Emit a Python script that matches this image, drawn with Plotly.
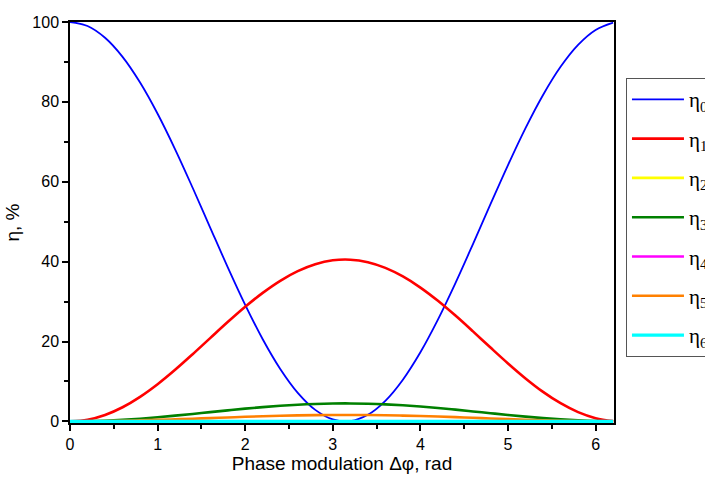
import plotly.graph_objects as go

phase = [0.0, 0.2, 0.4, 0.6, 0.8, 1.0, 1.2, 1.4, 1.6, 1.8, 2.0, 2.2, 2.4, 2.6, 2.8, 3.0,
         3.2, 3.4, 3.6, 3.8, 4.0, 4.2, 4.4, 4.6, 4.8, 5.0, 5.2, 5.4, 5.6, 5.8, 6.0, 6.2]

eta0 = [100.0, 99.0, 96.05, 91.27, 84.84, 77.02, 68.12, 58.50, 48.54, 38.64, 29.19, 20.57,
        13.13, 7.16, 2.89, 0.50, 0.09, 1.66, 5.16, 10.45, 17.32, 25.49, 34.63, 44.39, 54.38,
        64.18, 73.43, 81.73, 88.78, 94.28, 98.01, 99.83]
eta1 = [0.0, 0.40, 1.60, 3.54, 6.15, 9.31, 12.92, 16.82, 20.86, 24.87, 28.70, 32.19, 35.21,
        37.63, 39.36, 40.33, 40.49, 39.86, 38.44, 36.29, 33.51, 30.20, 26.49, 22.54, 18.49,
        14.52, 10.77, 7.40, 4.55, 2.32, 0.81, 0.07]
eta2 = [0.0] * 32
eta3 = [0.0, 0.05, 0.18, 0.39, 0.68, 1.03, 1.44, 1.87, 2.32, 2.76, 3.19, 3.58, 3.91, 4.18,
        4.37, 4.48, 4.50, 4.43, 4.27, 4.03, 3.72, 3.36, 2.94, 2.50, 2.05, 1.61, 1.20, 0.82,
        0.51, 0.26, 0.09, 0.01]
eta4 = [0.0] * 32
eta5 = [0.0, 0.02, 0.06, 0.14, 0.25, 0.37, 0.52, 0.67, 0.83, 0.99, 1.15, 1.29, 1.41, 1.50,
        1.57, 1.61, 1.62, 1.59, 1.54, 1.45, 1.34, 1.21, 1.06, 0.90, 0.74, 0.58, 0.43, 0.30,
        0.18, 0.09, 0.03, 0.00]
eta6 = [0.0] * 32

series = [
    ("η<sub>0</sub>", eta0, "#0000ff", 1.8),
    ("η<sub>1</sub>", eta1, "#ff0000", 2.6),
    ("η<sub>2</sub>", eta2, "#ffff00", 2.6),
    ("η<sub>3</sub>", eta3, "#008000", 2.6),
    ("η<sub>4</sub>", eta4, "#ff00ff", 2.6),
    ("η<sub>5</sub>", eta5, "#ff8000", 2.6),
    ("η<sub>6</sub>", eta6, "#00ffff", 3.2),
]

fig = go.Figure()
for i, (name, vals, color, w) in enumerate(series):
    fig.add_trace(go.Scatter(
        x=phase, y=vals, mode="lines", name=name,
        line=dict(color=color, width=w, shape="spline", smoothing=1.0),
        legendgroup=f"g{i}",
    ))

fig.update_layout(
    width=705, height=477,
    margin=dict(l=70, r=91, t=22, b=54, autoexpand=False),
    paper_bgcolor="white", plot_bgcolor="white",
    font=dict(family="Arial, Liberation Sans, sans-serif", size=16, color="black"),
    showlegend=True,
    legend=dict(
        x=1.022, y=0.86, xanchor="left", yanchor="top",
        font=dict(family="Liberation Serif, Times New Roman, serif", size=21, color="black"),
        bgcolor="white", bordercolor="#555555", borderwidth=1,
        tracegroupgap=9, itemwidth=52,
    ),
    xaxis=dict(
        range=[0, 6.21], tickmode="array", tickvals=[0, 1, 2, 3, 4, 5, 6],
        ticks="outside", ticklen=6, tickwidth=1.5, tickcolor="black",
        minor=dict(ticks="outside", ticklen=4, tickwidth=1.5, tickcolor="black", dtick=0.5, tick0=0),
        showline=True, linecolor="black", linewidth=1.5, mirror=True,
        showgrid=False, zeroline=False,
        title=dict(text="Phase modulation Δφ, rad", font=dict(size=19), standoff=4),
        tickfont=dict(size=16),
    ),
    yaxis=dict(
        range=[-0.4, 100], tickmode="array", tickvals=[0, 20, 40, 60, 80, 100],
        ticks="outside", ticklen=6, tickwidth=1.5, tickcolor="black",
        minor=dict(ticks="outside", ticklen=4, tickwidth=1.5, tickcolor="black", dtick=10, tick0=0),
        showline=True, linecolor="black", linewidth=1.5, mirror=True,
        showgrid=False, zeroline=False,
        title=dict(text="η, %", font=dict(size=19), standoff=8),
        tickfont=dict(size=16),
    ),
)

fig.write_html("out.html")
